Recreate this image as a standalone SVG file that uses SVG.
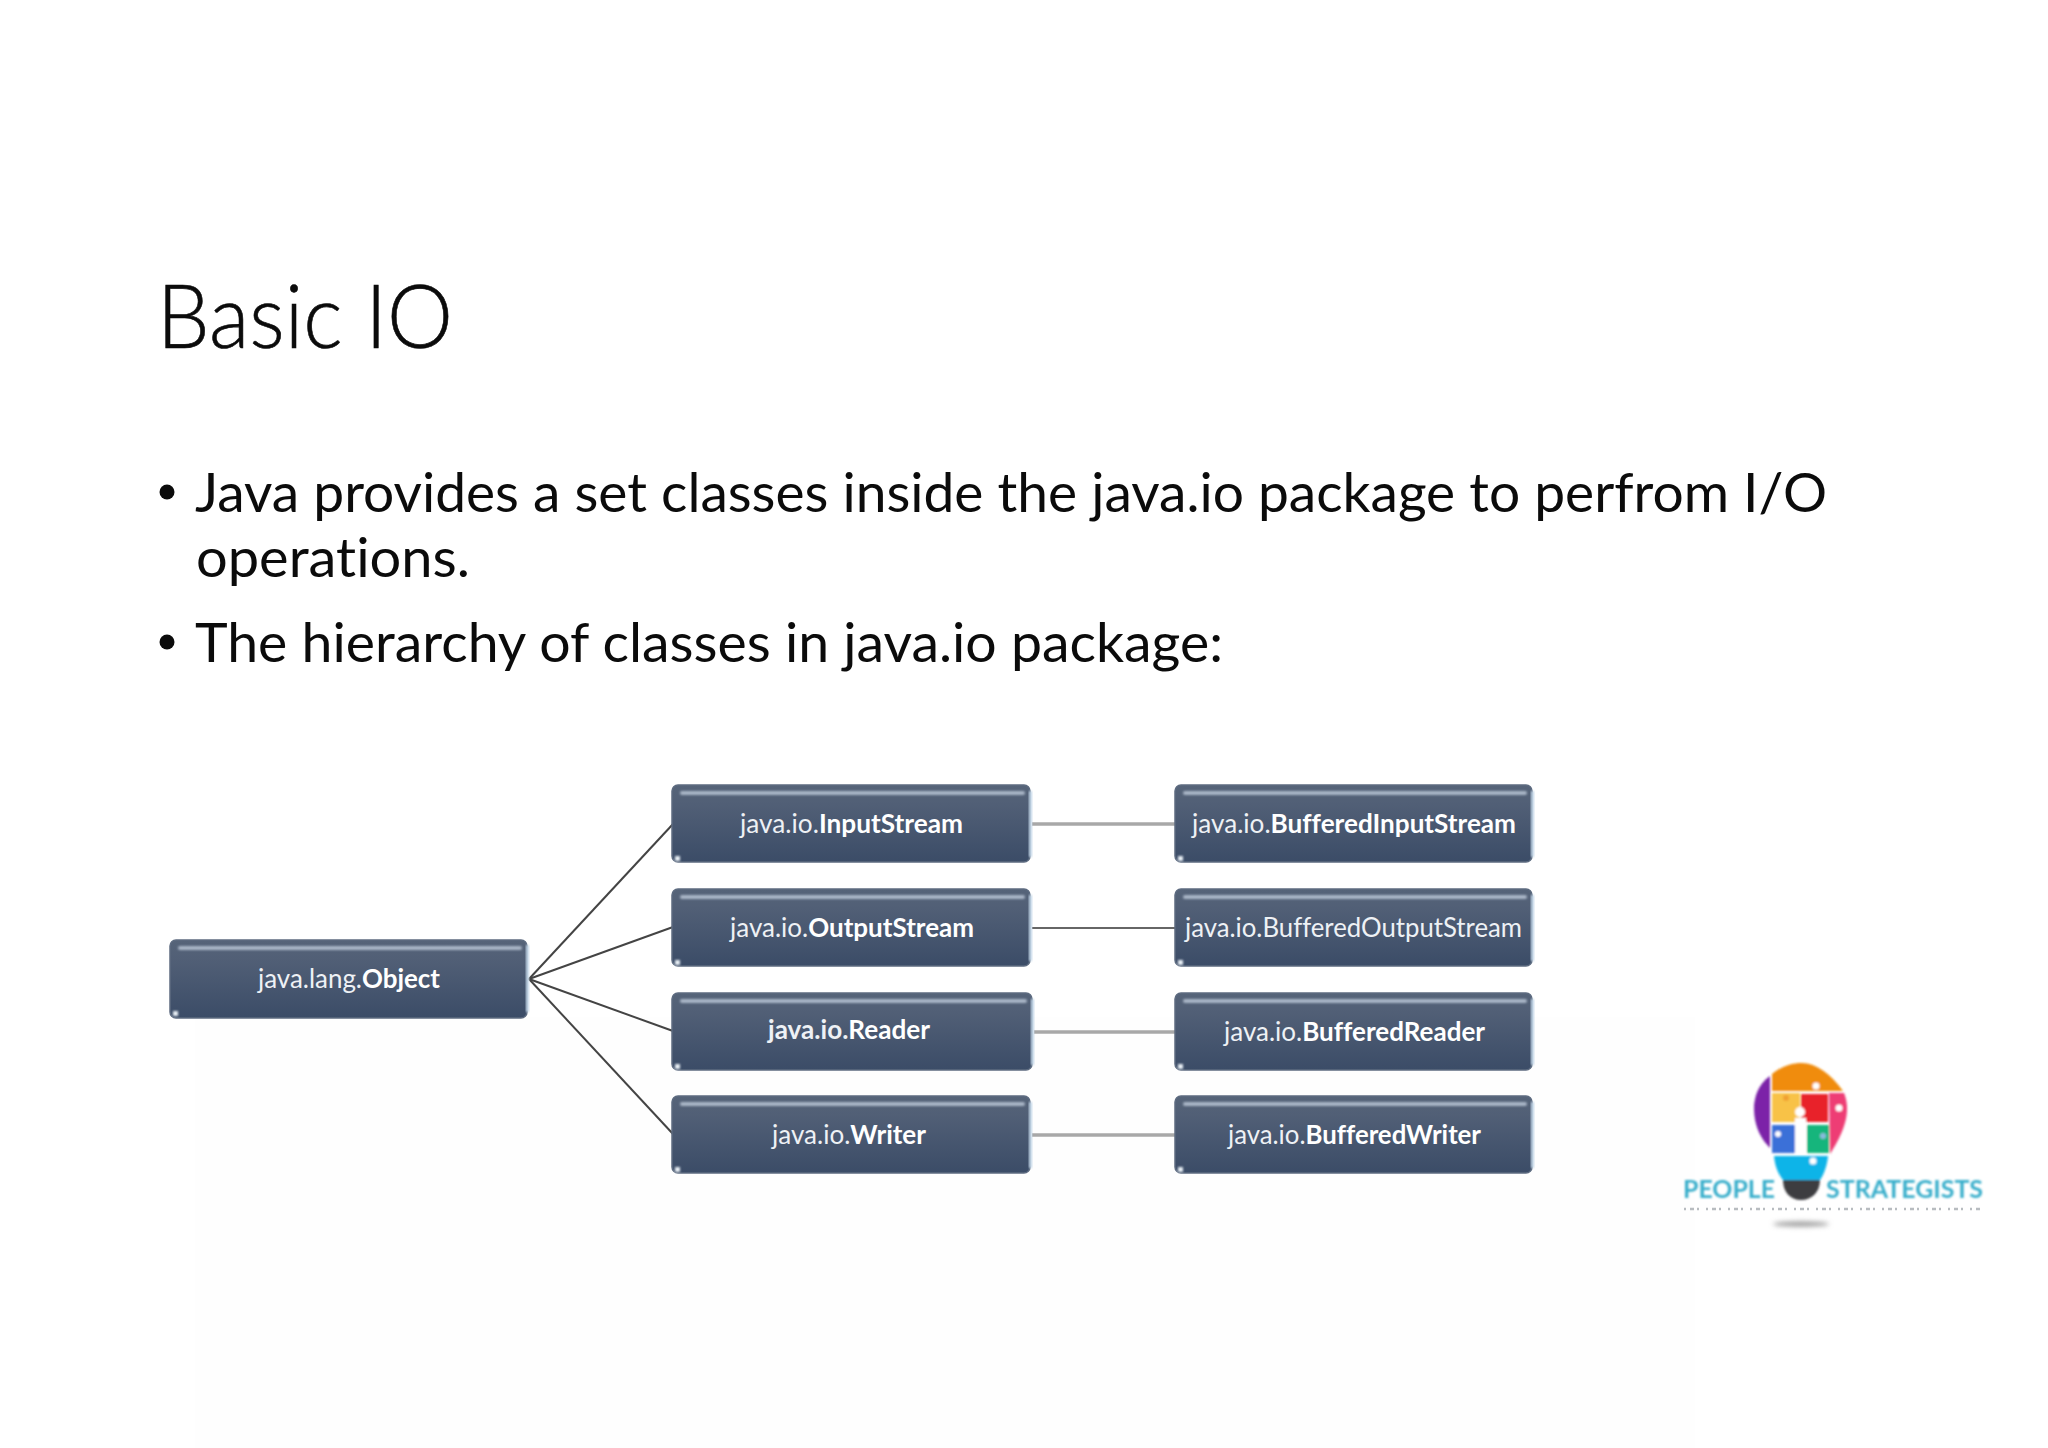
<svg xmlns="http://www.w3.org/2000/svg" width="2048" height="1448" viewBox="0 0 2048 1448">
<style>
text{font-variant-ligatures:none}
.h{font-family:"Lato","Liberation Sans",sans-serif;fill:#0b0b0b}
.t{font-weight:300;font-size:89px;stroke:#0b0b0b;stroke-width:.6}
.b{font-size:55px}
.n{font-family:"Lato","Liberation Sans",sans-serif;font-size:26px;fill:#eef1f5}
.n tspan{font-weight:700;fill:#fff}
.box{fill:url(#g);stroke:#5d6b80;stroke-width:1.5}
.hi{fill:#a8b5c6;filter:url(#bl)}
.ed{fill:#c0d4e6;filter:url(#bl)}
.dot{fill:#e6edf3;filter:url(#bl)}
.c{fill:none;stroke:#444;stroke-width:2}
.r1{stroke:#a8a8a8;stroke-width:3.5}
.r2{stroke:#666;stroke-width:2}
.lg{font-family:"Lato","Liberation Sans",sans-serif;font-size:25px;font-weight:700;fill:#38aecb;filter:url(#bl)}
</style>
<defs>
<linearGradient id="g" x1="0" y1="0" x2="0" y2="1">
<stop offset="0" stop-color="#566479"/><stop offset=".25" stop-color="#515f76"/><stop offset="1" stop-color="#3b4c67"/>
</linearGradient>
<filter id="bl" x="-30%" y="-100%" width="160%" height="300%"><feGaussianBlur stdDeviation="0.8"/></filter>
<filter id="sh" x="-30%" y="-200%" width="160%" height="500%"><feGaussianBlur stdDeviation="2.5"/></filter>
</defs>
<rect width="2048" height="1448" fill="#fff"/>
<rect x="195" y="1017" width="1500" height="431" fill="#fefefe"/>

<text class="h t" x="157" y="348" textLength="296" lengthAdjust="spacingAndGlyphs">Basic IO</text>
<circle cx="167" cy="492" r="7.5" fill="#0b0b0b"/>
<circle cx="167" cy="642" r="7.5" fill="#0b0b0b"/>
<text class="h b" x="195" y="512" textLength="1632" lengthAdjust="spacingAndGlyphs">Java provides a set classes inside the java.io package to perfrom I/O</text>
<text class="h b" x="196" y="577" textLength="274" lengthAdjust="spacingAndGlyphs">operations.</text>
<text class="h b" x="195" y="662" textLength="1028" lengthAdjust="spacingAndGlyphs">The hierarchy of classes in java.io package:</text>

<g id="connectors">
<path class="c" d="M529 979L673 824"/>
<path class="c" d="M529 979L673 927"/>
<path class="c" d="M529 979L673 1031"/>
<path class="c" d="M529 979L673 1134"/>
<path class="c r1" d="M1032 824H1175"/>
<path class="c r2" d="M1032 928H1175"/>
<path class="c r1" d="M1034 1032H1175"/>
<path class="c r1" d="M1032 1135H1175"/>
</g>

<g id="object"><rect class="box" x="170" y="940" width="357" height="78" rx="6"/><rect class="hi" x="178" y="946" width="344" height="4" rx="2"/><rect class="ed" x="526" y="945" width="3" height="67"/><rect class="dot" x="173" y="1011" width="5" height="5"/>
<text class="n" x="258" y="988" textLength="182" lengthAdjust="spacingAndGlyphs">java.lang.<tspan>Object</tspan></text></g>

<g id="inputstream"><rect class="box" x="672" y="785" width="358" height="77" rx="6"/><rect class="hi" x="680" y="791" width="345" height="4" rx="2"/><rect class="ed" x="1029" y="791" width="3" height="66"/><rect class="dot" x="675" y="856" width="5" height="5"/>
<text class="n" x="740" y="833" textLength="223" lengthAdjust="spacingAndGlyphs">java.io.<tspan>InputStream</tspan></text></g>
<g id="outputstream"><rect class="box" x="672" y="889" width="358" height="77" rx="6"/><rect class="hi" x="680" y="895" width="345" height="4" rx="2"/><rect class="ed" x="1029" y="895" width="3" height="66"/><rect class="dot" x="675" y="960" width="5" height="5"/>
<text class="n" x="730" y="937" textLength="244" lengthAdjust="spacingAndGlyphs">java.io.<tspan>OutputStream</tspan></text></g>
<g id="reader"><rect class="box" x="672" y="993" width="360" height="77" rx="6"/><rect class="hi" x="680" y="999" width="347" height="4" rx="2"/><rect class="ed" x="1031" y="999" width="3" height="66"/><rect class="dot" x="675" y="1064" width="5" height="5"/>
<text class="n" x="768" y="1039" textLength="162" lengthAdjust="spacingAndGlyphs" style="font-weight:700">java.io.<tspan>Reader</tspan></text></g>
<g id="writer"><rect class="box" x="672" y="1096" width="358" height="77" rx="6"/><rect class="hi" x="680" y="1102" width="345" height="4" rx="2"/><rect class="ed" x="1029" y="1102" width="3" height="66"/><rect class="dot" x="675" y="1167" width="5" height="5"/>
<text class="n" x="772" y="1144" textLength="154" lengthAdjust="spacingAndGlyphs">java.io.<tspan>Writer</tspan></text></g>

<g id="bufferedinputstream"><rect class="box" x="1175" y="785" width="357" height="77" rx="6"/><rect class="hi" x="1183" y="791" width="344" height="4" rx="2"/><rect class="ed" x="1531" y="791" width="3" height="66"/><rect class="dot" x="1178" y="856" width="5" height="5"/>
<text class="n" x="1192" y="833" textLength="324" lengthAdjust="spacingAndGlyphs">java.io.<tspan>BufferedInputStream</tspan></text></g>
<g id="bufferedoutputstream"><rect class="box" x="1175" y="889" width="357" height="77" rx="6"/><rect class="hi" x="1183" y="895" width="344" height="4" rx="2"/><rect class="ed" x="1531" y="895" width="3" height="66"/><rect class="dot" x="1178" y="960" width="5" height="5"/>
<text class="n" x="1185" y="937" textLength="337" lengthAdjust="spacingAndGlyphs">java.io.BufferedOutputStream</text></g>
<g id="bufferedreader"><rect class="box" x="1175" y="993" width="357" height="77" rx="6"/><rect class="hi" x="1183" y="999" width="344" height="4" rx="2"/><rect class="ed" x="1531" y="999" width="3" height="66"/><rect class="dot" x="1178" y="1064" width="5" height="5"/>
<text class="n" x="1224" y="1041" textLength="261" lengthAdjust="spacingAndGlyphs">java.io.<tspan>BufferedReader</tspan></text></g>
<g id="bufferedwriter"><rect class="box" x="1175" y="1096" width="357" height="77" rx="6"/><rect class="hi" x="1183" y="1102" width="344" height="4" rx="2"/><rect class="ed" x="1531" y="1102" width="3" height="66"/><rect class="dot" x="1178" y="1167" width="5" height="5"/>
<text class="n" x="1228" y="1144" textLength="253" lengthAdjust="spacingAndGlyphs">java.io.<tspan>BufferedWriter</tspan></text></g>

<g id="logo">
<g filter="url(#bl)">
<path d="M1770 1076C1758 1084 1754 1098 1754 1108C1754 1128 1762 1140 1770 1148Z" fill="#7b22a8"/>
<path d="M1772 1091V1074C1782 1066 1792 1063 1802 1063C1816 1063 1831 1074 1843 1091Z" fill="#f08c10"/>
<path d="M1772 1093H1800V1122H1772Z" fill="#f8c246"/>
<path d="M1801 1094H1828V1122H1801Z" fill="#e8202a"/>
<path d="M1829 1093H1844C1850 1108 1848 1126 1830 1154Z" fill="#ee3c74"/>
<path d="M1772 1125H1795V1153H1772Z" fill="#3a6fd8"/>
<path d="M1807 1125H1829V1153H1807Z" fill="#12b57c"/>
<path d="M1774 1156H1828C1827 1166 1824 1174 1820 1180H1783C1778 1174 1775 1166 1774 1156Z" fill="#10b4e8"/>
<path d="M1783 1180H1820C1820 1192 1812 1200 1801 1200C1790 1200 1783 1192 1783 1180Z" fill="#3c3c40"/>
<circle cx="1800" cy="1112" r="5" fill="#fff"/>
<path d="M1795 1118H1806V1153H1795Z" fill="#fff"/>
<circle cx="1816" cy="1086" r="3.5" fill="#fff"/>
<circle cx="1786" cy="1098" r="3" fill="#f0a030"/>
<circle cx="1839" cy="1108" r="3.5" fill="#fff"/>
<circle cx="1778" cy="1134" r="3" fill="#fff"/>
<circle cx="1823" cy="1136" r="3" fill="#8bd"/>
<circle cx="1813" cy="1161" r="3.5" fill="#fff"/>
</g>
<text class="lg" x="1683" y="1198" textLength="92" lengthAdjust="spacingAndGlyphs">PEOPLE</text>
<text class="lg" x="1826" y="1198" textLength="157" lengthAdjust="spacingAndGlyphs">STRATEGISTS</text>
<path d="M1684 1209H1982" stroke="#b8bcc0" stroke-width="2.5" stroke-dasharray="2 4 4 3 2 7" fill="none"/>
<ellipse cx="1801" cy="1224" rx="28" ry="2.5" fill="#999" filter="url(#sh)"/>
</g>
</svg>
